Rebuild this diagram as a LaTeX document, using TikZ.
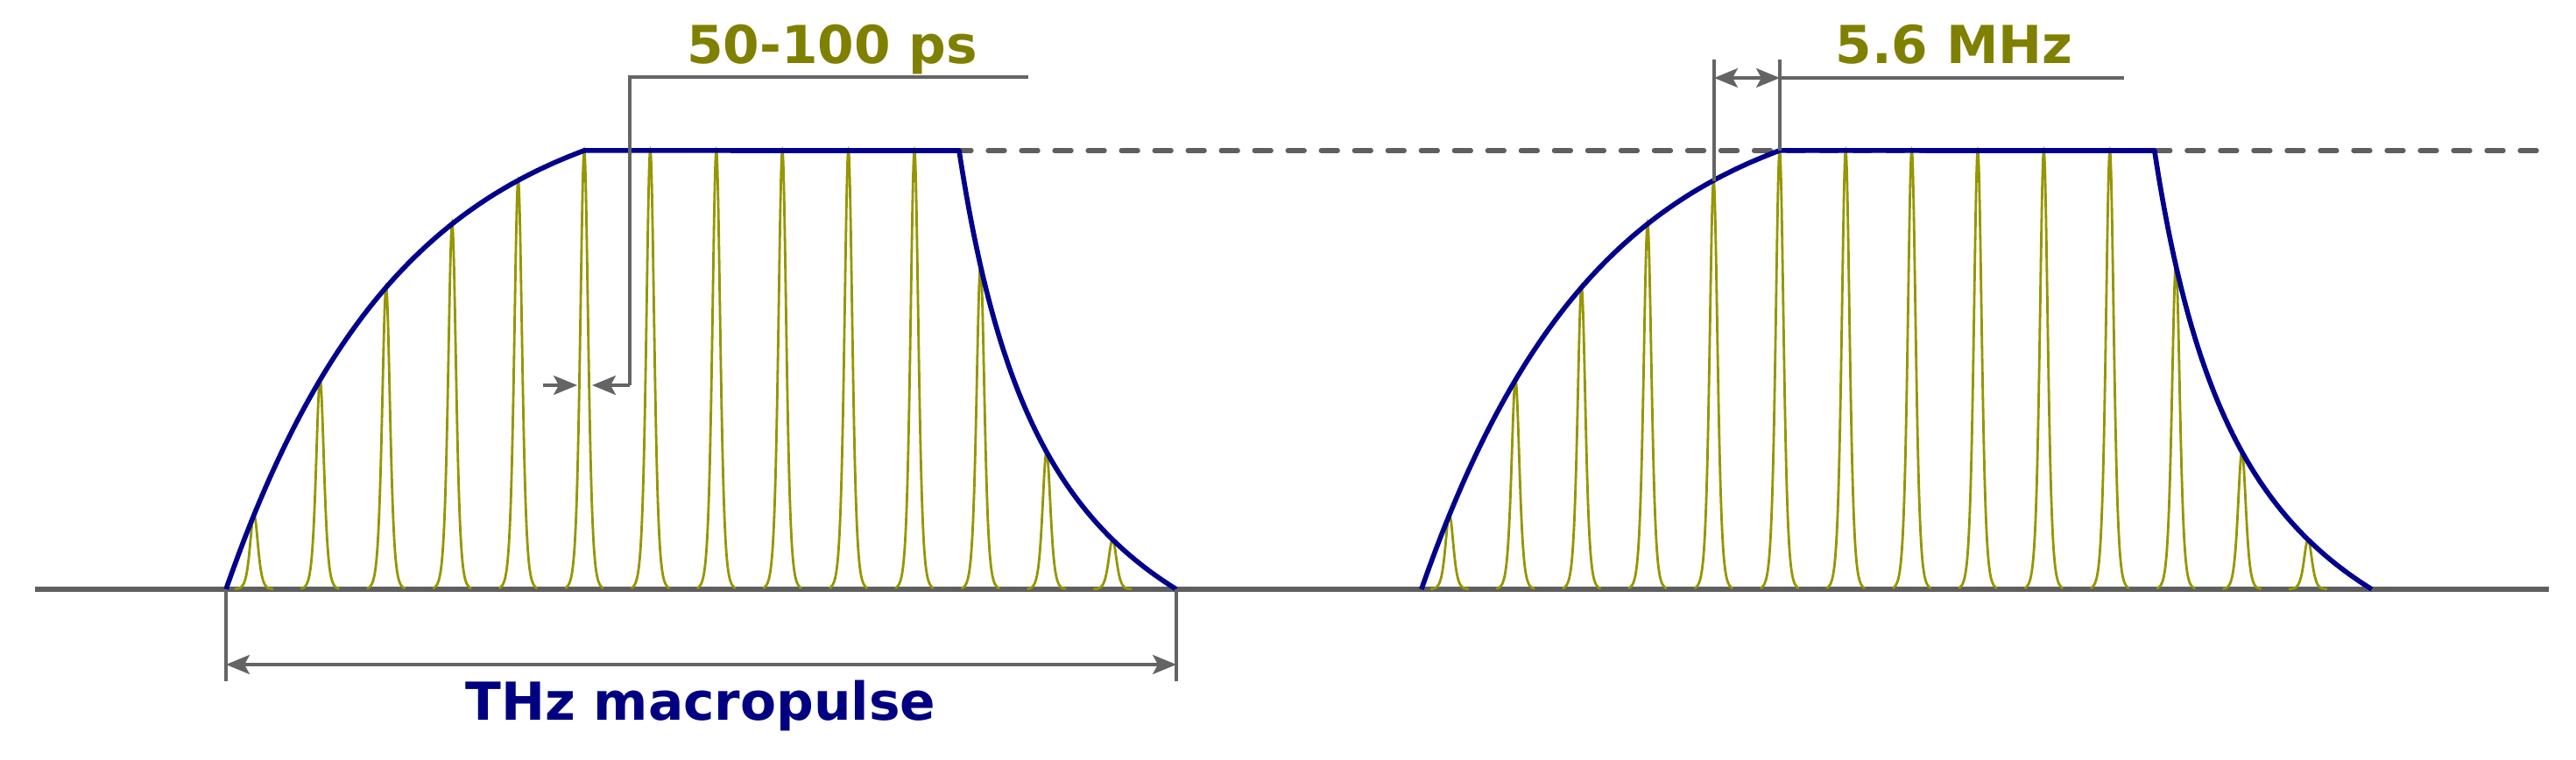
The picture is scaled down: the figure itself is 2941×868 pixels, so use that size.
\documentclass[tikz,border=0pt]{standalone}
\usepackage{fontspec}
\setmainfont{DejaVu Sans}
\usetikzlibrary{arrows.meta}
\definecolor{envblue}{RGB}{0,0,140}
\definecolor{txtblue}{RGB}{0,0,128}
\definecolor{pulseolive}{RGB}{150,150,0}
\definecolor{labolive}{RGB}{128,128,0}
\definecolor{axisgray}{RGB}{95,95,95}
\definecolor{dimgray}{RGB}{100,100,100}
\newcommand\onepulse[2]{%
  \draw[pulseline] plot[domain=-22:22, samples=61, smooth] ({#1+\x},{673-#2/(cosh(\x/6)^2)});}
\newcommand\macroenvelope[1]{%
\begin{scope}[xshift=#1]
  \foreach \k in {0,...,4}{
    \pgfmathsetmacro\cx{667+75.4*(\k-5)}
    \pgfmathsetmacro\hh{575.5*(1-exp(-(\cx-258)/200))}
    \onepulse{\cx}{\hh}
  }
  \foreach \k in {5,...,10}{
    \pgfmathsetmacro\cx{667+75.4*(\k-5)}
    \onepulse{\cx}{501}
  }
  \foreach \k in {11,12,13}{
    \pgfmathsetmacro\cx{667+75.4*(\k-5)}
    \pgfmathsetmacro\hh{501*(1-(\cx-1095)/248)/(1+(\cx-1095)/110)}
    \onepulse{\cx}{\hh}
  }
  \draw[envline] plot[domain=258:667, samples=90] ({\x},{673-575.5*(1-exp(-(\x-258)/200))})
     -- (1095,172) -- plot[domain=1095:1343, samples=90] ({\x},{673-501*(1-(\x-1095)/248)/(1+(\x-1095)/110)});
\end{scope}}
\begin{document}
\begin{tikzpicture}[x=0.01cm,y=-0.01cm,
  axisline/.style={draw=axisgray, line width=1.7pt},
  envline/.style={draw=envblue, line width=1.6pt, line join=round},
  pulseline/.style={draw=pulseolive, line width=0.8pt},
  dimline/.style={draw=dimgray, line width=0.9pt},
  levelline/.style={draw=axisgray, line width=1.5pt, line cap=round, dash pattern=on 0.19cm off 0.19cm, dash phase=0.05cm},
  tipA/.tip={Stealth[length=0.27cm,width=0.22cm,inset=0.06cm]},
  onearrow/.style={dimline, -tipA},
  twoarrow/.style={dimline, tipA-tipA},
  lab/.style={font=\fontsize{17}{20}\selectfont\bfseries, inner sep=0pt, anchor=base}]
\useasboundingbox (0,0) rectangle (2941,868);
% axis and level
\coordinate (axL) at (40,673);
\coordinate (axR) at (2910,673);
\coordinate (lvL) at (1095,172);
\coordinate (lvR) at (2912,172);
\draw[axisline] (axL) -- (axR);
\draw[levelline] (lvL) -- (lvR);
% two macropulses
\macroenvelope{0cm}
\macroenvelope{13.64cm}
% THz macropulse dimension
\coordinate (mA) at (258,673);
\coordinate (mB) at (1343,673);
\coordinate (mA2) at (258,778);
\coordinate (mB2) at (1343,778);
\coordinate (mAr) at (258,759);
\coordinate (mBr) at (1343,759);
\draw[dimline] (mA) -- (mA2);
\draw[dimline] (mB) -- (mB2);
\draw[twoarrow] (mAr) -- (mBr);
\node[lab, text=txtblue] (thz) at (800,823) {THz macropulse};
% 50-100 ps
\coordinate (pA) at (620,440);
\coordinate (pAt) at (659,440);
\coordinate (pB) at (719,440);
\coordinate (pBt) at (676,440);
\coordinate (pC) at (719,88);
\coordinate (pD) at (1174,88);
\draw[onearrow] (pA) -- (pAt);
\draw[onearrow] (pB) -- (pBt);
\draw[dimline] (pB) -- (pC) -- (pD);
\node[lab, text=labolive] (ps) at (950,73) {50-100 ps};
% 5.6 MHz
\coordinate (fA) at (1957,207);
\coordinate (fA2) at (1957,68);
\coordinate (fB) at (2032,172);
\coordinate (fB2) at (2032,68);
\coordinate (fAr) at (1957,89);
\coordinate (fBr) at (2032,89);
\coordinate (fE) at (2425,89);
\draw[dimline] (fA) -- (fA2);
\draw[dimline] (fB) -- (fB2);
\draw[twoarrow] (fAr) -- (fBr);
\draw[dimline] (fBr) -- (fE);
\node[lab, text=labolive] (mhz) at (2231,73) {5.6 MHz};
\end{tikzpicture}
\end{document}
